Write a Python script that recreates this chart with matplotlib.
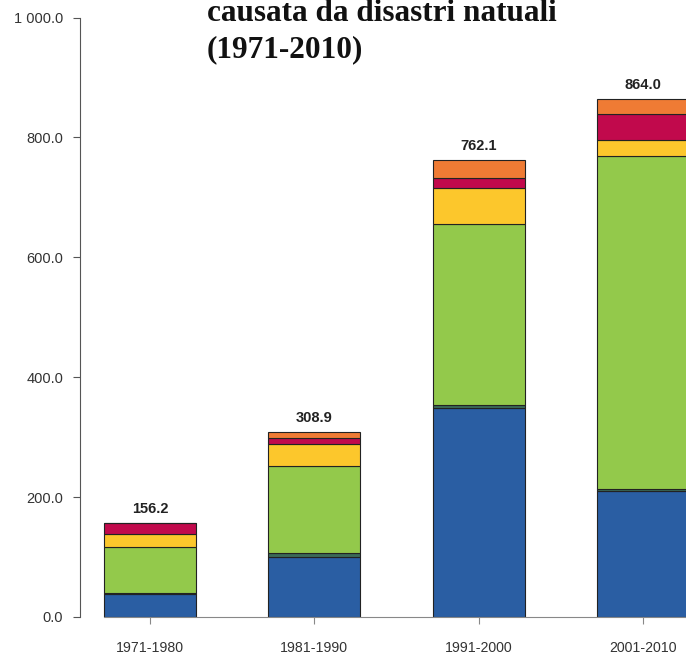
import matplotlib.pyplot as plt
import numpy as np

# decades and stacked segments (bottom to top)
periods = ["1971-1980", "1981-1990", "1991-2000", "2001-2010"]
blue = [38.0, 100.0, 348.0, 211.0]
teal = [2.0, 6.0, 5.0, 2.0]
green = [77.0, 146.0, 302.0, 556.0]
yellow = [22.0, 37.0, 61.0, 26.0]
crimson = [17.2, 9.0, 16.0, 44.5]
orange = [0.0, 10.9, 30.1, 24.5]
totals = [156.2, 308.9, 762.1, 864.0]

layers = [blue, teal, green, yellow, crimson, orange]
colors = ["#2a5ea3", "#3b6a58", "#93c94b", "#fcc72c", "#c1094c", "#ef7b34"]

fig = plt.figure(figsize=(6.86, 6.55), dpi=100)
ax = fig.add_axes([80/686, 38/655, 606/686, 599.5/655])

x = np.arange(len(periods))
bottom = np.zeros(len(periods))
for vals, c in zip(layers, colors):
    ax.bar(x, vals, 0.56, bottom=bottom, color=c, edgecolor="#222222", linewidth=0.8)
    bottom += np.array(vals)

for xi, t in zip(x, totals):
    ax.text(xi, t + 12, f"{t:.1f}", ha="center", va="bottom",
            fontsize=10.5, fontweight="bold", color="#222222", family="Liberation Sans")

ax.set_xlim(-0.426, 3.262)
ax.set_ylim(0, 1000)
ax.set_yticks([0, 200, 400, 600, 800, 1000])
ax.set_yticklabels(["0.0", "200.0", "400.0", "600.0", "800.0", "1 000.0"])
ax.set_xticks(x)
ax.set_xticklabels(periods)

for s in ["top", "right"]:
    ax.spines[s].set_visible(False)
ax.spines["left"].set_color("#555555")
ax.spines["bottom"].set_color("#888888")
ax.spines["bottom"].set_bounds(-0.28, 3.5)
ax.tick_params(axis="y", length=5, pad=7, colors="#555555", labelcolor="#333333", labelsize=10.5)
ax.tick_params(axis="x", length=5, pad=12, colors="#888888", labelcolor="#333333", labelsize=10.2)
for lab in ax.get_xticklabels() + ax.get_yticklabels():
    lab.set_family("Liberation Sans")

fig.text(207/686, (655-21)/655, "causata da disastri natuali", fontsize=22.5,
         fontweight="bold", family="Liberation Serif", va="baseline", color="#111111")
fig.text(207/686, (655-57)/655, "(1971-2010)", fontsize=22.5,
         fontweight="bold", family="Liberation Serif", va="baseline", color="#111111")

fig.savefig("out.png", dpi=100)
